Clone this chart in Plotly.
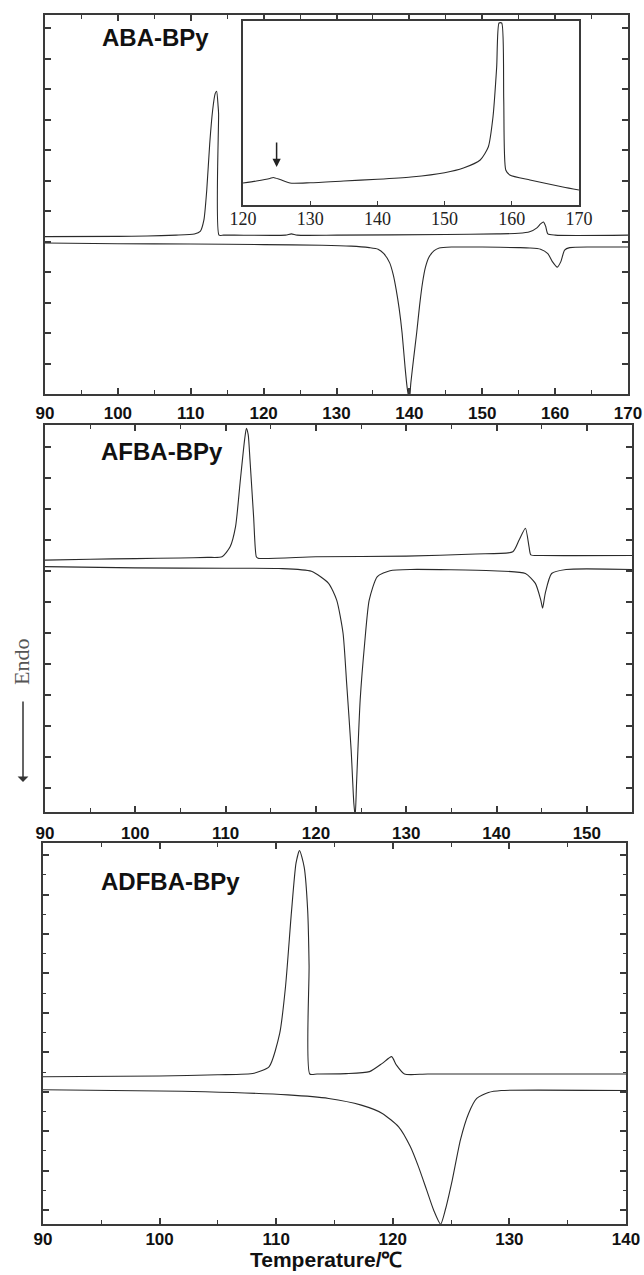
import plotly.graph_objects as go

W, H = 644, 1275

# ---------------- data (arbitrary heat-flow units) ----------------
# Panel 1: ABA-BPy
aba_up_T = [90, 100, 104, 108, 110.5, 111.3, 111.8, 112.2, 112.6, 113.0, 113.35, 113.55, 113.75, 113.82, 113.88,
            114.5, 116, 123, 123.8, 124.6, 130, 145, 152, 155, 156.5, 157.5, 158.0, 158.4, 158.7, 159.0, 160, 170]
aba_up_V = [5.16, 5.17, 5.18, 5.21, 5.25, 5.33, 5.7, 6.7, 8.2, 9.3, 9.85, 9.93, 9.45, 9.2, 5.21,
            5.21, 5.21, 5.21, 5.25, 5.21, 5.21, 5.23, 5.25, 5.27, 5.32, 5.45, 5.58, 5.64, 5.5, 5.25, 5.21, 5.21]
aba_dn_T = [90, 100, 110, 120, 128, 132, 134.5, 135.7, 136.5, 137.3, 137.8, 138.2, 138.6, 139.0, 139.4,
            139.7, 140.0, 140.2, 140.6, 141.0, 141.4, 141.8, 142.2, 142.7, 143.4, 144.1, 145.8, 150, 155,
            156.5, 158, 159.0, 159.6, 160.3, 160.8, 161.3, 162, 165, 170]
aba_dn_V = [4.95, 4.93, 4.92, 4.90, 4.88, 4.85, 4.80, 4.75, 4.6, 4.30, 3.9, 3.41, 2.8, 2.0, 0.9,
            0.2, -0.2, 0.36, 1.2, 2.0, 2.9, 3.64, 4.15, 4.49, 4.7, 4.79, 4.82, 4.82, 4.80,
            4.79, 4.75, 4.6, 4.35, 4.16, 4.35, 4.72, 4.8, 4.82, 4.82]
# Inset (zoom of ABA-BPy upper trace, 120-170 C)
ins_T = [120, 122, 124, 124.5, 125.5, 127, 130, 135, 140, 145, 150, 152.8, 155.3, 156.5, 157.2,
         157.75, 158.1, 158.5, 158.8, 159.1, 159.7, 162.7, 167.6, 170]
ins_V = [2.2, 2.4, 2.65, 2.75, 2.55, 2.2, 2.23, 2.4, 2.57, 2.8, 3.23, 3.7, 4.5, 5.8, 8.8,
         13.8, 18.2, 18.2, 10.5, 3.5, 3.0, 2.5, 1.8, 1.5]
ins_arrow_T = 125
ins_ticks = [120, 130, 140, 150, 160, 170]

# Panel 2: AFBA-BPy
afba_up_T = [90, 95, 100, 105, 108, 109.6, 110.5, 111.1, 111.6, 112.1, 112.3, 112.5, 112.7, 113.1,
             113.4, 113.6, 120, 130, 137.7, 141.8, 142.5, 143.2, 143.6, 143.8, 145, 155]
afba_up_V = [8.35, 8.38, 8.40, 8.42, 8.44, 8.46, 8.78, 9.43, 10.84, 12.23, 12.60, 12.4, 11.58, 9.75,
             8.46, 8.41, 8.46, 8.48, 8.55, 8.62, 9.0, 9.38, 8.78, 8.52, 8.50, 8.50]
afba_dn_T = [90, 100, 110, 115.9, 119.5, 121.4, 122.3, 123.0, 123.4, 123.9, 124.2, 124.35, 124.5,
             124.9, 125.4, 125.9, 126.8, 128.2, 130.5, 139.5, 143.2, 144.3, 144.9, 145.1, 145.4,
             146.1, 147.7, 155]
afba_dn_V = [8.14, 8.10, 8.09, 8.08, 7.99, 7.60, 7.06, 6.0, 4.39, 2.23, 0.5, 0.1, 1.16,
             3.84, 5.68, 7.06, 7.82, 8.01, 8.05, 8.01, 7.92, 7.60, 7.06, 6.80, 7.29,
             7.92, 8.05, 8.05]

# Panel 3: ADFBA-BPy
adfba_up_T = [90, 100, 105, 108.1, 109.4, 110.3, 110.8, 111.3, 111.7, 112.0, 112.4, 112.7, 112.82, 112.88,
              113.5, 116, 118.0, 119.1, 119.9, 120.3, 121.0, 123, 140]
adfba_up_V = [4.38, 4.40, 4.43, 4.47, 4.64, 5.48, 6.67, 8.53, 9.80, 10.12, 9.7, 8.6, 7.2, 4.45,
              4.45, 4.46, 4.51, 4.72, 4.89, 4.68, 4.45, 4.45, 4.45]
adfba_dn_T = [90, 100, 103.9, 111, 114.5, 117.3, 119.1, 120.5, 121.5, 122.2, 122.9, 123.5, 124.1,
              124.5, 125.1, 125.8, 126.5, 127.2, 128.2, 129.3, 140]
adfba_dn_V = [4.05, 4.02, 4.00, 3.92, 3.83, 3.66, 3.45, 3.11, 2.61, 2.10, 1.51, 1.0, 0.64,
              1.0, 1.76, 2.78, 3.45, 3.83, 3.98, 4.03, 4.03]

panel_names = ["ABA-BPy", "AFBA-BPy", "ADFBA-BPy"]
x_ranges = [[90, 170], [90, 155], [90, 140]]
y_ranges = [[0, 12.43], [0.226, 12.71], [0.645, 10.31]]
x_label = "Temperature/℃"
y_label = "Endo"

# ---------------- layout geometry (pixels) ----------------
def px(x):
    return x / W

def py(y):
    return 1 - y / H

boxes = [  # left, right, top, bottom
    (45, 628, 15, 394),
    (45, 632, 425, 812),
    (43, 626, 843, 1224),
]
inset_box = (243, 579, 21, 205)

LINE = "#2a2a2a"
AX = "#3a3a3a"
tick_font = dict(family="Liberation Sans, Arial, sans-serif", size=17, color="#111", weight="bold")

fig = go.Figure()

series = [
    (aba_up_T, aba_up_V, 1), (aba_dn_T, aba_dn_V, 1),
    (afba_up_T, afba_up_V, 2), (afba_dn_T, afba_dn_V, 2),
    (adfba_up_T, adfba_up_V, 3), (adfba_dn_T, adfba_dn_V, 3),
]
for T, V, k in series:
    s = "" if k == 1 else str(k)
    fig.add_trace(go.Scatter(x=T, y=V, mode="lines", xaxis="x" + s, yaxis="y" + s,
                             line=dict(color=LINE, width=1.1, shape="spline", smoothing=0.6),
                             showlegend=False, hoverinfo="skip", cliponaxis=True))

fig.add_trace(go.Scatter(x=ins_T, y=ins_V, mode="lines", xaxis="x4", yaxis="y4",
                         line=dict(color=LINE, width=1.1, shape="spline", smoothing=0.6),
                         showlegend=False, hoverinfo="skip"))

standoffs = [3, 5, -1]
y_minor = [None, None, 0.5]
for i in range(3):
    l, r, t, b = boxes[i]
    s = "" if i == 0 else str(i + 1)
    xa = dict(domain=[px(l), px(r)], range=x_ranges[i], anchor="y" + s, automargin=False,
              showline=True, linecolor=AX, linewidth=1.8, mirror="allticks",
              ticks="inside", ticklen=6, tickwidth=1.5, tickcolor=AX, dtick=10, tick0=90,
              minor=dict(ticks="inside", ticklen=4, tickwidth=1.3, tickcolor=AX, dtick=5, tick0=90),
              showgrid=False, zeroline=False, tickfont=tick_font, ticklabelstandoff=standoffs[i])
    ya = dict(domain=[py(b), py(t)], range=y_ranges[i], anchor="x" + s, automargin=False,
              showline=True, linecolor=AX, linewidth=1.8, mirror="allticks",
              ticks="inside", ticklen=6, tickwidth=1.5, tickcolor=AX, dtick=1, tick0=0,
              showticklabels=False, showgrid=False, zeroline=False)
    if y_minor[i]:
        ya["minor"] = dict(ticks="inside", ticklen=3, tickwidth=1.2, tickcolor=AX, dtick=y_minor[i], tick0=0)
    fig.layout["xaxis" + s] = xa
    fig.layout["yaxis" + s] = ya

l, r, t, b = inset_box
fig.layout["xaxis4"] = dict(domain=[px(l), px(r)], range=[120, 170], anchor="y4", automargin=False,
                            showline=True, linecolor=AX, linewidth=1.5, mirror=True,
                            ticks="inside", ticklen=4, tickwidth=1.2, tickcolor=AX,
                            tickvals=ins_ticks, showgrid=False, zeroline=False,
                            tickfont=dict(family="Liberation Serif, Times New Roman, serif", size=18, color="#222"),
                            ticklabelstandoff=-3)
fig.layout["yaxis4"] = dict(domain=[py(b), py(t)], range=[0, 18.4], anchor="x4", automargin=False,
                            showline=True, linecolor=AX, linewidth=1.5, mirror=True,
                            ticks="", showticklabels=False, showgrid=False, zeroline=False)

title_font = dict(family="Liberation Sans, Arial, sans-serif", size=24, color="#111", weight="bold")
title_pos = [(100, 37), (99, 451), (99, 881)]
annotations = []
for name, (tx, ty) in zip(panel_names, title_pos):
    annotations.append(dict(text=name, x=px(tx), y=py(ty), xref="paper", yref="paper",
                            xanchor="left", yanchor="middle", showarrow=False, font=title_font))

annotations.append(dict(text=y_label, x=px(22), y=py(662), xref="paper", yref="paper", textangle=-90,
                        xanchor="center", yanchor="middle", showarrow=False,
                        font=dict(family="Liberation Serif, Times New Roman, serif", size=22, color="#555")))
annotations.append(dict(text="", x=px(23), y=py(782), xref="paper", yref="paper", ax=0, ay=-82,
                        showarrow=True, arrowhead=1, arrowsize=1.2, arrowwidth=1.5, arrowcolor="#333"))
annotations.append(dict(text="", x=ins_arrow_T, y=3.8, xref="x4", yref="y4", ax=0, ay=-26,
                        showarrow=True, arrowhead=2, arrowsize=1.1, arrowwidth=1.5, arrowcolor="#222"))
annotations.append(dict(text=x_label, x=px(326), y=py(1259), xref="paper", yref="paper",
                        xanchor="center", yanchor="middle", showarrow=False,
                        font=dict(family="Liberation Sans, Arial, sans-serif", size=21, color="#111", weight="bold")))

fig.update_layout(template=None, width=W, height=H, margin=dict(l=0, r=0, t=0, b=0, autoexpand=False),
                  paper_bgcolor="white", plot_bgcolor="white", annotations=annotations)

fig.write_html("out.html", config={"displayModeBar": False},
               post_script="document.body.style.margin='0';document.body.style.overflow='hidden';")
